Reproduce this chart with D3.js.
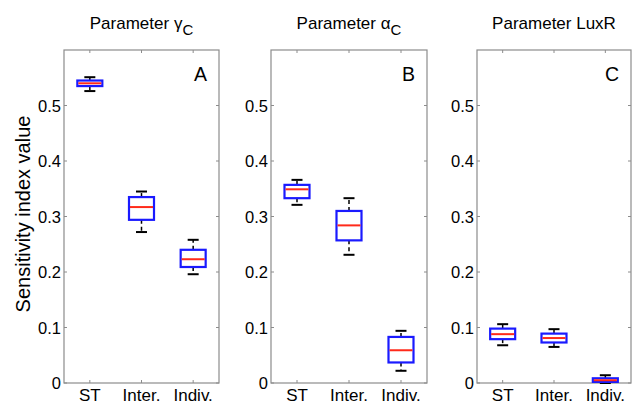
<!DOCTYPE html>
<meta charset="utf-8">
<script src="https://d3js.org/d3.v7.min.js"></script>
<body style="margin:0;background:#fff">
<div id="chart"></div>
<script>
// categories on the x axis of every panel
var groups = ["ST", "Inter.", "Indiv."];
var yTicks = [0, 0.1, 0.2, 0.3, 0.4, 0.5];

// box stats per panel: [whiskerLow, q1, median, q3, whiskerHigh]
var gammaC = [[0.526, 0.535, 0.540, 0.545, 0.551],
              [0.272, 0.294, 0.317, 0.335, 0.345],
              [0.196, 0.209, 0.223, 0.240, 0.258]];
var alphaC = [[0.321, 0.333, 0.349, 0.357, 0.366],
              [0.231, 0.257, 0.284, 0.310, 0.333],
              [0.022, 0.037, 0.059, 0.083, 0.094]];
var luxR   = [[0.068, 0.079, 0.088, 0.098, 0.106],
              [0.065, 0.073, 0.081, 0.089, 0.097],
              [0.000, 0.002, 0.005, 0.0085, 0.014]];

var panels = [
  {title: "Parameter ", greek: "\u03b3", sub: "C", letter: "A", data: gammaC, x0: 64, x1: 219},
  {title: "Parameter ", greek: "\u03b1", sub: "C", letter: "B", data: alphaC, x0: 271, x1: 427},
  {title: "Parameter LuxR", greek: null, sub: null, letter: "C", data: luxR, x0: 477, x1: 631}
];

var W = 632, H = 405, plotTop = 50, plotBottom = 383;
var font = "Liberation Sans, Arial, sans-serif";
var axisCol = "#8c8c8c";

var svg = d3.select("#chart").append("svg")
  .attr("width", W).attr("height", H)
  .style("font-family", font);

var y = d3.scaleLinear().domain([0, 0.6]).range([plotBottom, plotTop]);

// y axis label
svg.append("text")
  .attr("transform", "translate(30,214) rotate(-90)")
  .attr("text-anchor", "middle")
  .style("font-size", "20px")
  .text("Sensitivity index value");

panels.forEach(function(p) {
  var x = d3.scaleLinear().domain([0.5, 3.5]).range([p.x0, p.x1]);
  var g = svg.append("g");

  // frame
  g.append("rect")
    .attr("x", p.x0).attr("y", plotTop)
    .attr("width", p.x1 - p.x0).attr("height", plotBottom - plotTop)
    .attr("fill", "none").attr("stroke", axisCol).attr("stroke-width", 1.2);

  // y ticks (left labels + inner ticks on both sides)
  yTicks.forEach(function(t) {
    g.append("line").attr("x1", p.x0).attr("x2", p.x0 + 3)
      .attr("y1", y(t)).attr("y2", y(t)).attr("stroke", axisCol);
    g.append("line").attr("x1", p.x1).attr("x2", p.x1 - 3)
      .attr("y1", y(t)).attr("y2", y(t)).attr("stroke", axisCol);
    g.append("text")
      .attr("x", p.x0 - 3).attr("y", y(t) + 6)
      .attr("text-anchor", "end")
      .style("font-size", "16.5px")
      .text(t === 0 ? "0" : d3.format(".1f")(t));
  });

  // x ticks
  groups.forEach(function(name, i) {
    var cx = x(i + 1);
    g.append("line").attr("x1", cx).attr("x2", cx)
      .attr("y1", plotBottom).attr("y2", plotBottom - 3).attr("stroke", axisCol);
    g.append("line").attr("x1", cx).attr("x2", cx)
      .attr("y1", plotTop).attr("y2", plotTop + 3).attr("stroke", axisCol);
    g.append("text")
      .attr("x", cx).attr("y", 401)
      .attr("text-anchor", "middle")
      .style("font-size", "17px")
      .text(name);
  });

  // title
  var cxT = (p.x0 + p.x1) / 2;
  var t = g.append("text")
    .attr("x", cxT).attr("y", 29)
    .attr("text-anchor", "middle")
    .style("font-size", "17px");
  t.append("tspan").text(p.title);
  if (p.greek) {
    t.append("tspan").text(p.greek);
    t.append("tspan").attr("dy", 6).style("font-size", "15px").text(p.sub);
  }

  // panel letter
  g.append("text")
    .attr("x", p.x1 - 12).attr("y", 81)
    .attr("text-anchor", "end")
    .style("font-size", "19.5px")
    .text(p.letter);

  // boxes
  var hw = 12.5, cw = 5.5;
  p.data.forEach(function(d, i) {
    var cx = x(i + 1);
    // whiskers (dashed)
    g.append("line").attr("x1", cx).attr("x2", cx)
      .attr("y1", y(d[3])).attr("y2", y(d[4]))
      .attr("stroke", "#000").attr("stroke-width", 1.5).attr("stroke-dasharray", "4,3");
    g.append("line").attr("x1", cx).attr("x2", cx)
      .attr("y1", y(d[1])).attr("y2", y(d[0]))
      .attr("stroke", "#000").attr("stroke-width", 1.5).attr("stroke-dasharray", "4,3");
    // caps
    [d[0], d[4]].forEach(function(v) {
      g.append("line").attr("x1", cx - cw).attr("x2", cx + cw)
        .attr("y1", y(v)).attr("y2", y(v))
        .attr("stroke", "#000").attr("stroke-width", 2);
    });
    // box
    g.append("rect")
      .attr("x", cx - hw).attr("y", y(d[3]))
      .attr("width", hw * 2).attr("height", y(d[1]) - y(d[3]))
      .attr("fill", "#fff").attr("stroke", "#1a1aff").attr("stroke-width", 2.2);
    // median
    g.append("line").attr("x1", cx - hw + 1).attr("x2", cx + hw - 1)
      .attr("y1", y(d[2])).attr("y2", y(d[2]))
      .attr("stroke", "#ff2a1a").attr("stroke-width", 2);
  });
});
</script>
</body>
